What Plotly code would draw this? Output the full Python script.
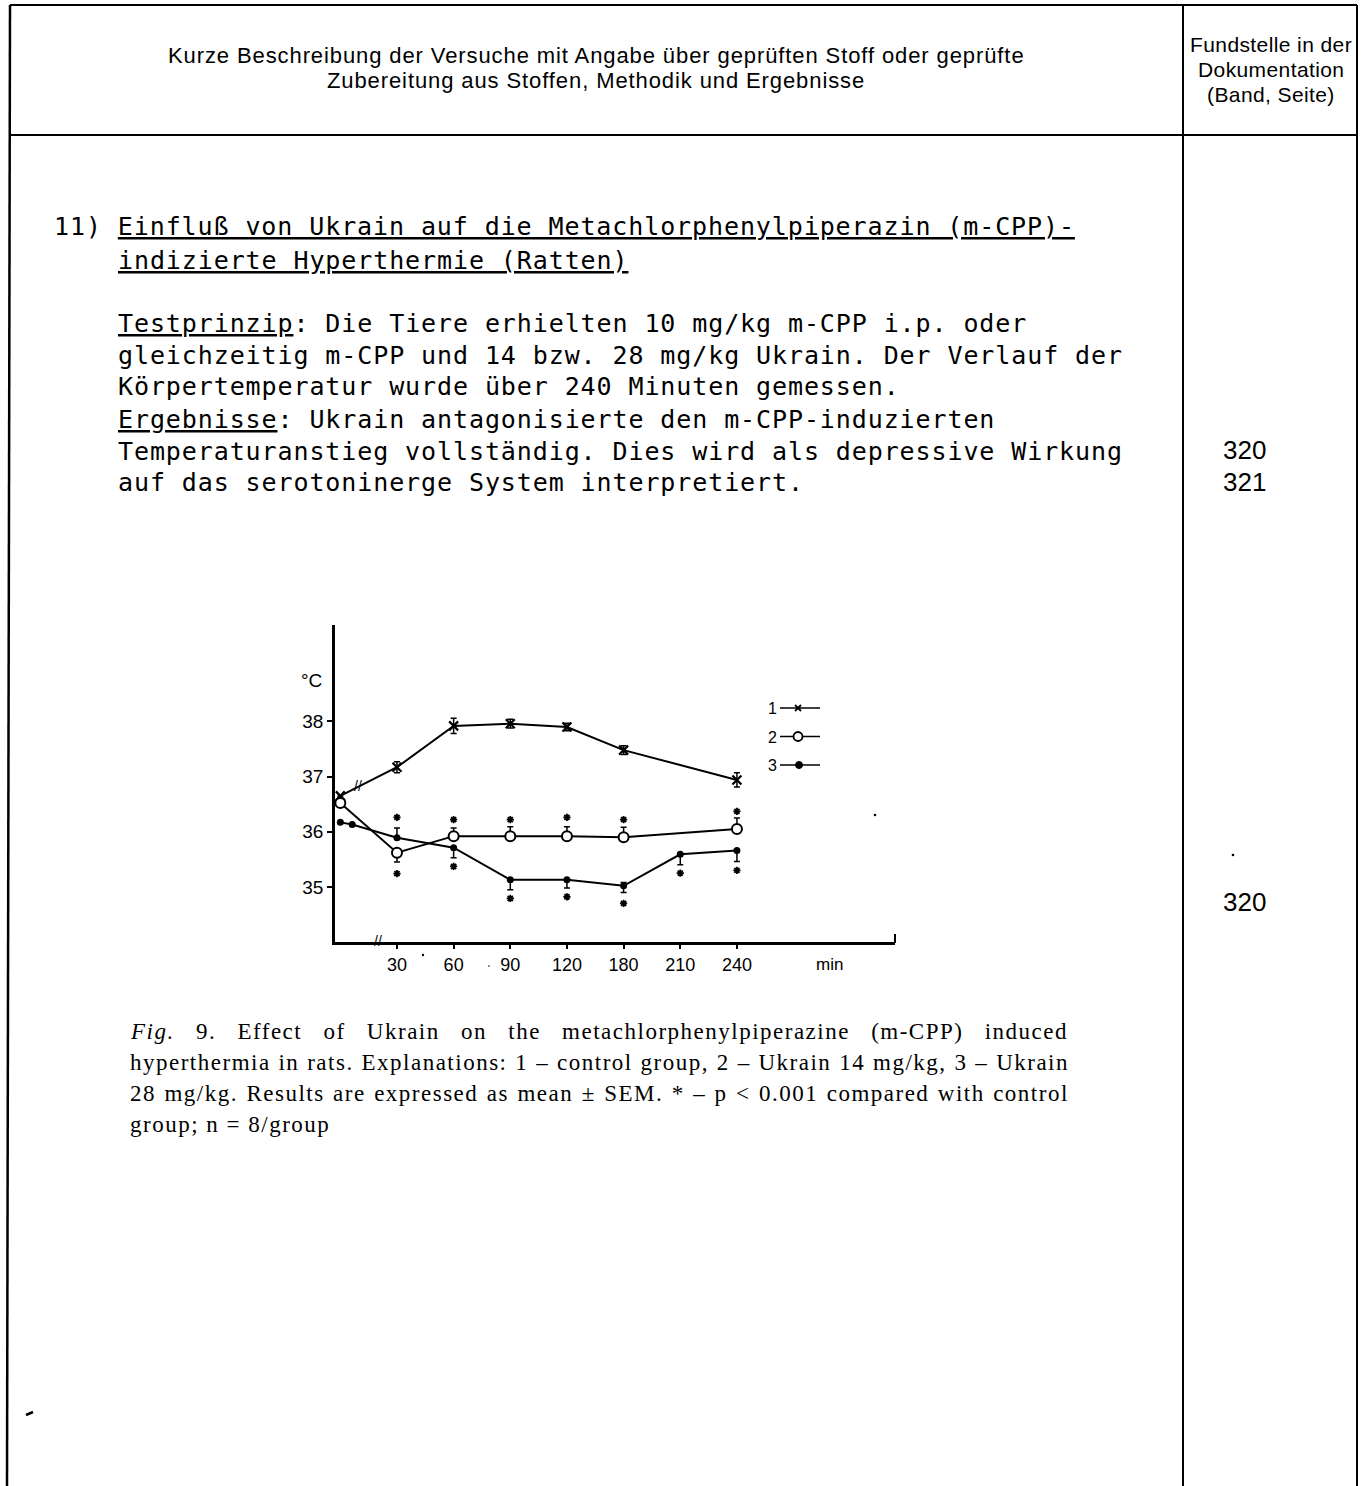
import plotly.graph_objects as go

W, H = 1372, 1486

# ---------------- chart data ----------------
# x positions: 0 = start, 1..7 = labelled ticks (uniform spacing as in the original)
tick_pos = [1, 2, 3, 4, 5, 6, 7]
tick_labels = ["30", "60", "90", "120", "180", "210", "240"]
y_ticks = [35, 36, 37, 38]

# 1 - control group
s1_x = [0, 1, 2, 3, 4, 5, 7]
s1_y = [36.65, 37.17, 37.92, 37.96, 37.90, 37.48, 36.94]
s1_err = [0, 0.10, 0.14, 0.08, 0.07, 0.08, 0.13]

# 2 - Ukrain 14 mg/kg
s2_x = [0, 1, 2, 3, 4, 5, 7]
s2_y = [36.52, 35.62, 35.92, 35.92, 35.92, 35.90, 36.05]
s2_err_up = [0, 0, 0.15, 0.17, 0.17, 0.18, 0.20]
s2_err_dn = [0, 0.17, 0, 0, 0, 0, 0]

# 3 - Ukrain 28 mg/kg
s3_x = [0, 0.21, 1, 2, 3, 4, 5, 6, 7]
s3_y = [36.17, 36.13, 35.89, 35.71, 35.13, 35.13, 35.02, 35.59, 35.66]
s3_err_up = [0, 0, 0.18, 0, 0, 0, 0.06, 0, 0]
s3_err_dn = [0, 0, 0, 0.18, 0.18, 0.15, 0.12, 0.19, 0.20]

# significance marks (*)
sig_x = [1, 1, 2, 2, 3, 3, 4, 4, 5, 5, 6, 7, 7]
sig_y = [36.26, 35.24, 36.22, 35.37, 36.22, 34.79, 36.26, 34.82, 36.22, 34.70, 35.25, 36.37, 35.30]

legend_labels = ["1", "2", "3"]

# ---------------- page text ----------------
header_lines = [
    "Kurze Beschreibung der Versuche mit Angabe über geprüften Stoff oder geprüfte",
    "Zubereitung aus Stoffen, Methodik und Ergebnisse",
]
ref_header = ["Fundstelle in der", "Dokumentation", "(Band, Seite)"]
title_lines = [
    "11) <u>Einfluß von Ukrain auf die Metachlorphenylpiperazin (m-CPP)-</u>",
    "<u>indizierte Hyperthermie (Ratten)</u>",
]
body_lines = [
    "<u>Testprinzip</u>: Die Tiere erhielten 10 mg/kg m-CPP i.p. oder",
    "gleichzeitig m-CPP und 14 bzw. 28 mg/kg Ukrain. Der Verlauf der",
    "Körpertemperatur wurde über 240 Minuten gemessen.",
    "<u>Ergebnisse</u>: Ukrain antagonisierte den m-CPP-induzierten",
    "Temperaturanstieg vollständig. Dies wird als depressive Wirkung",
    "auf das serotoninerge System interpretiert.",
]
refs = [("320", 450), ("321", 482), ("320", 902)]
caption_lines = [
    "<i>Fig.</i> 9. Effect of Ukrain on the metachlorphenylpiperazine (m-CPP) induced",
    "hyperthermia in rats. Explanations: 1 – control group, 2 – Ukrain 14 mg/kg, 3 – Ukrain",
    "28 mg/kg. Results are expressed as mean ± SEM. * – p &lt; 0.001 compared with control",
    "group; n = 8/group",
]
caption_wordspacing = [14, 0.6, 1.2, 0]


def px(x):
    return x / W


def py(y):
    return 1 - y / H


fig = go.Figure()

eb = dict(color="black", thickness=1.5, width=3)

fig.add_trace(go.Scatter(
    x=s1_x, y=s1_y, mode="lines+markers",
    line=dict(color="black", width=2),
    marker=dict(symbol="x-thin", size=9, line=dict(color="black", width=2.2), color="black"),
    error_y=dict(type="data", array=s1_err, visible=True, **eb),
))
fig.add_trace(go.Scatter(
    x=s2_x, y=s2_y, mode="lines+markers",
    line=dict(color="black", width=2),
    marker=dict(symbol="circle", size=10, color="white", line=dict(color="black", width=2)),
    error_y=dict(type="data", symmetric=False, array=s2_err_up, arrayminus=s2_err_dn, visible=True, **eb),
))
fig.add_trace(go.Scatter(
    x=s3_x, y=s3_y, mode="lines+markers",
    line=dict(color="black", width=2),
    marker=dict(symbol="circle", size=7, color="black"),
    error_y=dict(type="data", symmetric=False, array=s3_err_up, arrayminus=s3_err_dn, visible=True, **eb),
))
fig.add_trace(go.Scatter(
    x=sig_x, y=sig_y, mode="markers",
    marker=dict(symbol="asterisk-open", size=6, color="black", line=dict(color="black", width=1.8)),
))

ann = []


def A(text, x, y, size, family, xanchor="left", color="black", **kw):
    ann.append(dict(text=text, x=px(x), y=py(y), xref="paper", yref="paper",
                    xanchor=xanchor, yanchor="middle", showarrow=False,
                    font=dict(size=size, family=family, color=color), **kw))


def sp(text, ls, ws=0):
    return '<span style="letter-spacing:%spx;word-spacing:%spx">%s</span>' % (ls, ws, text)


SANS = "Liberation Sans"
MONO = "DejaVu Sans Mono"
SERIF = "Liberation Serif"

for i, t in enumerate(header_lines):
    A(sp(t, 0.9), 596, 56 + 25 * i, 22, SANS, "center")
for i, t in enumerate(ref_header):
    A(sp(t, 0.4), 1271, 44 + 25 * i, 21, SANS, "center")

A(sp(title_lines[0], 0.9), 52, 227, 25, MONO)
A(sp(title_lines[1], 0.9), 116, 260, 25, MONO)
for i, t in enumerate(body_lines):
    A(sp(t, 0.9), 116, 323 + 32 * i, 25, MONO)
for t, y in refs:
    A(t, 1244, y, 26, SANS, "center")

for i, t in enumerate(caption_lines):
    A(sp(t, 1.5, caption_wordspacing[i]), 128, 1031 + 31.3 * i, 23, SERIF)

# chart labels
A("°C", 311, 680, 19, SANS, "center")
A("min", 829, 964, 17, SANS, "center")
A("//", 378, 941, 14, SANS, "center")
A("//", 358, 786, 14, SANS, "center")
for i, lab in enumerate(legend_labels):
    A(lab, 772, 709 + 28 * i, 16, SANS, "center")

shapes = []


def L(x0, y0, x1, y1, w=2, color="black"):
    shapes.append(dict(type="line", xref="paper", yref="paper",
                       x0=px(x0), y0=py(y0), x1=px(x1), y1=py(y1),
                       line=dict(color=color, width=w)))


# table frame
L(10, 5, 1357, 5, 2)
L(10, 135, 1357, 135, 2)
L(10, 5, 7, 1486, 2.5)
L(1183, 5, 1183, 1486, 2)
L(1357, 5, 1357, 1486, 2)

# legend samples
for i in range(3):
    yy = 708 + 28.5 * i
    L(780, yy, 820, yy, 1.5)
# legend marker 1 (x)
L(795, 705, 801, 711, 1.8)
L(795, 711, 801, 705, 1.8)
# legend marker 2 (open circle)
shapes.append(dict(type="circle", xref="paper", yref="paper", xsizemode="pixel", ysizemode="pixel",
                   xanchor=px(798), yanchor=py(736.5), x0=-4.5, x1=4.5, y0=-4.5, y1=4.5,
                   fillcolor="white", line=dict(color="black", width=1.8)))
# legend marker 3 (dot)
shapes.append(dict(type="circle", xref="paper", yref="paper", xsizemode="pixel", ysizemode="pixel",
                   xanchor=px(799), yanchor=py(765), x0=-3.5, x1=3.5, y0=-3.5, y1=3.5,
                   fillcolor="black", line=dict(color="black", width=1)))
# end of x axis
L(895, 943, 895, 934, 2)

# scan specks
for (sx, sy, r) in [(875, 815, 1.3), (1233, 855, 1.3), (423, 955, 1.2), (489, 966, 0.8)]:
    shapes.append(dict(type="circle", xref="paper", yref="paper", xsizemode="pixel", ysizemode="pixel",
                       xanchor=px(sx), yanchor=py(sy), x0=-r, x1=r, y0=-r, y1=r,
                       fillcolor="black", line=dict(width=0)))
L(26, 1415, 33, 1412, 2.5)

fig.update_layout(
    width=W, height=H, margin=dict(l=0, r=0, t=0, b=0),
    paper_bgcolor="white", plot_bgcolor="white", showlegend=False,
    annotations=ann, shapes=shapes,
    xaxis=dict(domain=[px(335), px(895)], range=[-0.094, 9.79],
               showline=True, linecolor="black", linewidth=3, mirror=False,
               ticks="outside", ticklen=4, tickwidth=1.5, tickcolor="black",
               tickvals=tick_pos, ticktext=tick_labels, showgrid=False, zeroline=False,
               tickfont=dict(size=18, family=SANS, color="black")),
    yaxis=dict(domain=[py(942), py(625)], range=[34, 39.75],
               showline=True, linecolor="black", linewidth=2.5,
               ticks="outside", ticklen=5, tickwidth=1.5, tickcolor="black",
               tickvals=y_ticks, showgrid=False, zeroline=False,
               tickfont=dict(size=19, family=SANS, color="black")),
)

fig.write_html("out.html")
